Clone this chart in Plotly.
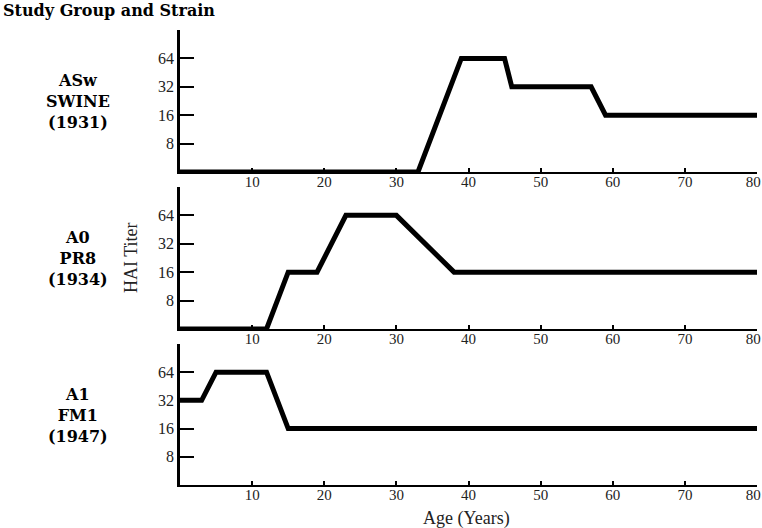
"""HAI titer by age for three influenza strains"""
import plotly.graph_objects as go

# ASw SWINE (1931)
swine_age = [0, 33, 39, 45, 46, 57, 59, 80]
swine_titer = [4, 4, 64, 64, 32, 32, 16, 16]

# A0 PR8 (1934)
pr8_age = [0, 12, 15, 19, 23, 30, 38, 80]
pr8_titer = [4, 4, 16, 16, 64, 64, 16, 16]

# A1 FM1 (1947)
fm1_age = [0, 3, 5, 12, 15, 80]
fm1_titer = [32, 32, 64, 64, 16, 16]

group_labels = ['ASw<br>SWINE<br>(1931)', 'A0<br>PR8<br>(1934)', 'A1<br>FM1<br>(1947)']
x_ticks = [10, 20, 30, 40, 50, 60, 70, 80]
y_ticks = [8, 16, 32, 64]

SERIF = "Liberation Serif, DejaVu Serif, serif"
BOLD_SERIF = "DejaVu Serif, Liberation Serif, serif"

series = [(swine_age, swine_titer), (pr8_age, pr8_titer), (fm1_age, fm1_titer)]
domains = [[0.688, 1.0], [0.343, 0.655], [0.0, 0.31]]
label_y = [0.842, 0.497, 0.152]

# last label padded so it stays inside the page edge
x_text = [str(v) for v in x_ticks]
x_text[-1] = x_text[-1] + '\u00a0\u00a0'

fig = go.Figure()
layout = {}
for i, ((ages, titers), dom) in enumerate(zip(series, domains)):
    n = '' if i == 0 else str(i + 1)
    fig.add_trace(go.Scatter(
        x=ages, y=titers, mode='lines',
        line=dict(color='black', width=5),
        xaxis='x' + n, yaxis='y' + n,
        showlegend=False, cliponaxis=False,
    ))
    layout['xaxis' + n] = dict(
        range=[0, 80], domain=[0, 1], anchor='y' + n, automargin=False,
        tickvals=x_ticks, ticktext=x_text, ticks='inside', ticklen=4, tickwidth=1.5,
        tickcolor='black', showline=True, linecolor='black', linewidth=2,
        showgrid=False, zeroline=False, ticklabeloverflow='allow',
        ticklabelstandoff=-5,
        tickfont=dict(family=SERIF, size=15, color='#222'),
    )
    layout['yaxis' + n] = dict(
        type='log', range=[0.60206, 2.10721], domain=dom, anchor='x' + n,
        automargin=False,
        tickvals=y_ticks, ticktext=[str(v) for v in y_ticks],
        ticks='inside', ticklen=14, tickwidth=2, tickcolor='black',
        showline=True, linecolor='black', linewidth=2.5,
        showgrid=False, zeroline=False,
        tickfont=dict(family=SERIF, size=16, color='#222'),
    )

annotations = [
    dict(text='<b>Study Group and Strain</b>', xref='paper', yref='paper',
         x=-0.311, y=1.042, xanchor='left', yanchor='middle', showarrow=False,
         font=dict(family=BOLD_SERIF, size=16, color='black')),
    dict(text='HAI Titer', xref='paper', yref='paper', x=-0.085, y=0.501,
         xanchor='center', yanchor='middle', textangle=-90, showarrow=False,
         font=dict(family=SERIF, size=18, color='#222')),
    dict(text='Age (Years)', xref='paper', yref='paper', x=0.497, y=-0.073,
         xanchor='center', yanchor='middle', showarrow=False,
         font=dict(family=SERIF, size=18, color='#222')),
]
for lab, yy in zip(group_labels, label_y):
    annotations.append(dict(
        text='<b>' + lab + '</b>', xref='paper', yref='paper', x=-0.1768, y=yy,
        xanchor='center', yanchor='middle', showarrow=False,
        font=dict(family=BOLD_SERIF, size=16, color='black'),
    ))

fig.update_layout(
    width=762, height=528,
    margin=dict(l=180, r=5, t=30, b=43, autoexpand=False),
    plot_bgcolor='white', paper_bgcolor='white',
    annotations=annotations,
    **layout,
)

# drop the default 8px page margin so the figure sits at the window corner
fig.write_html("out.html", config={'displayModeBar': False},
               post_script="document.body.style.margin='0';")
